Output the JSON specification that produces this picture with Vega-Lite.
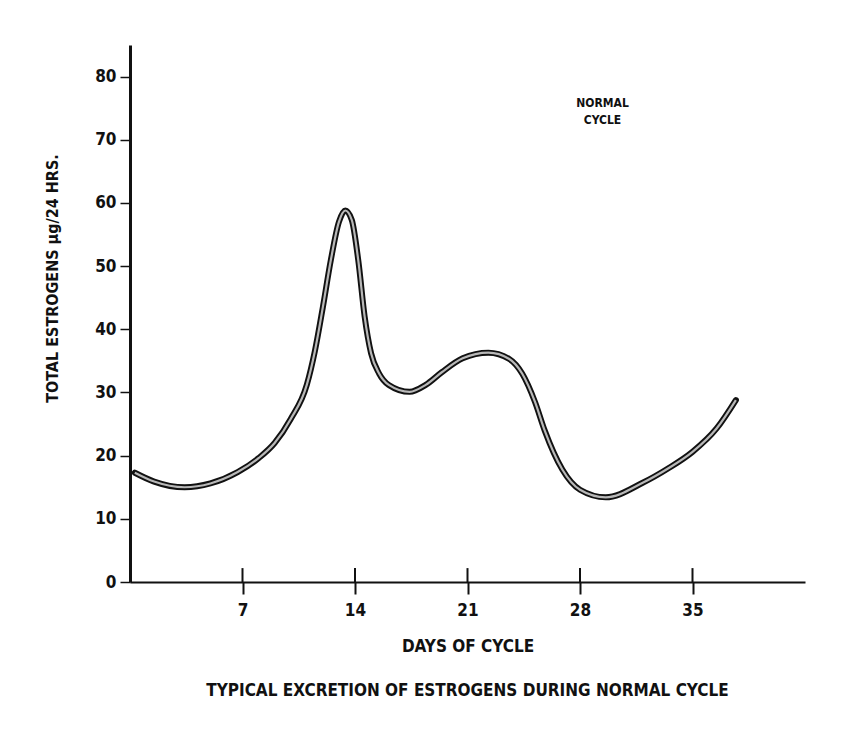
{
  "$schema": "https://vega.github.io/schema/vega-lite/v6.json",
  "autosize": "none",
  "width": 675,
  "height": 537,
  "padding": {"left": 130, "top": 45, "right": 50, "bottom": 150},
  "background": "white",
  "config": {
    "view": {"stroke": null},
    "font": "DejaVu Sans Condensed",
    "axis": {"labelFont": "DejaVu Sans Condensed", "titleFont": "DejaVu Sans Condensed", "labelColor": "#111", "titleColor": "#111", "domainColor": "#111", "tickColor": "#111", "grid": false}
  },
  "title": {
    "text": "TYPICAL EXCRETION OF ESTROGENS DURING NORMAL CYCLE",
    "orient": "bottom",
    "anchor": "middle",
    "font": "DejaVu Sans Condensed",
    "fontSize": 17,
    "fontWeight": "bold",
    "color": "#111",
    "offset": 29
  },
  "datasets": {
    "curve": [
      {"day": 0.3, "value": 17.3},
      {"day": 1.5, "value": 15.9},
      {"day": 3.4, "value": 15.0},
      {"day": 5.0, "value": 15.6},
      {"day": 6.7, "value": 17.4},
      {"day": 8.0, "value": 19.6},
      {"day": 9.0, "value": 22.0},
      {"day": 10.0, "value": 25.8},
      {"day": 11.0, "value": 31.2},
      {"day": 11.5, "value": 36.5},
      {"day": 12.0, "value": 43.5},
      {"day": 12.5, "value": 51.0},
      {"day": 13.0, "value": 57.0},
      {"day": 13.4, "value": 58.8},
      {"day": 13.8, "value": 57.3},
      {"day": 14.2, "value": 51.0},
      {"day": 14.6, "value": 42.0},
      {"day": 15.0, "value": 36.2},
      {"day": 15.5, "value": 33.0},
      {"day": 16.1, "value": 31.2},
      {"day": 17.4, "value": 30.1},
      {"day": 18.4, "value": 31.2},
      {"day": 19.4, "value": 33.2},
      {"day": 20.7, "value": 35.4},
      {"day": 22.3, "value": 36.3},
      {"day": 23.6, "value": 35.3},
      {"day": 24.4, "value": 33.0},
      {"day": 25.2, "value": 28.5},
      {"day": 25.8, "value": 24.0},
      {"day": 26.9, "value": 17.8},
      {"day": 28.0, "value": 14.6},
      {"day": 29.6, "value": 13.4},
      {"day": 31.9, "value": 15.7},
      {"day": 33.5, "value": 18.0},
      {"day": 35.0, "value": 20.6},
      {"day": 36.5, "value": 24.3},
      {"day": 37.7, "value": 28.8}
    ],
    "ticks": [
      {"day": 7, "lo": 0, "hi": 2.2},
      {"day": 14, "lo": 0, "hi": 2.2},
      {"day": 21, "lo": 0, "hi": 2.2},
      {"day": 28, "lo": 0, "hi": 2.2},
      {"day": 35, "lo": 0, "hi": 2.2}
    ],
    "note": [
      {"day": 29.4, "value": 75.8, "label": "NORMAL\nCYCLE"}
    ]
  },
  "layer": [
    {
      "data": {"name": "curve"},
      "mark": {"type": "line", "interpolate": "monotone", "color": "#111", "strokeWidth": 6, "strokeCap": "round"},
      "encoding": {
        "x": {
          "field": "day", "type": "quantitative",
          "scale": {"domain": [0, 42], "nice": false, "zero": false},
          "axis": {
            "values": [7, 14, 21, 28, 35],
            "title": "DAYS OF CYCLE",
            "titleFontSize": 17,
            "titleFontWeight": "bold",
            "titlePadding": 20,
            "labelFontSize": 17,
            "labelFontWeight": "bold",
            "labelPadding": 8,
            "tickSize": 12,
            "tickWidth": 2,
            "domainWidth": 2
          }
        },
        "y": {
          "field": "value", "type": "quantitative",
          "scale": {"domain": [0, 85], "nice": false},
          "axis": {
            "values": [0, 10, 20, 30, 40, 50, 60, 70, 80],
            "title": "TOTAL ESTROGENS μg/24 HRS.",
            "titleFontSize": 16,
            "titleFontWeight": "bold",
            "titleX": -78,
            "titleY": 233,
            "titleBaseline": "middle",
            "labelFontSize": 17,
            "labelFontWeight": "bold",
            "labelPadding": 4,
            "tickSize": 10,
            "tickWidth": 1.5,
            "domainWidth": 3
          }
        }
      }
    },
    {
      "data": {"name": "curve"},
      "mark": {"type": "line", "interpolate": "monotone", "color": "#b8b8b8", "strokeWidth": 2.2},
      "encoding": {
        "x": {"field": "day", "type": "quantitative"},
        "y": {"field": "value", "type": "quantitative"}
      }
    },
    {
      "data": {"name": "ticks"},
      "mark": {"type": "rule", "color": "#111", "strokeWidth": 2},
      "encoding": {
        "x": {"field": "day", "type": "quantitative"},
        "y": {"field": "lo", "type": "quantitative"},
        "y2": {"field": "hi"}
      }
    },
    {
      "data": {"name": "note"},
      "mark": {"type": "text", "font": "DejaVu Sans Condensed", "fontSize": 12, "fontWeight": "bold", "align": "center", "baseline": "middle", "lineBreak": "\n", "lineHeight": 17, "color": "#111"},
      "encoding": {
        "x": {"field": "day", "type": "quantitative"},
        "y": {"field": "value", "type": "quantitative"},
        "text": {"field": "label"}
      }
    }
  ]
}
